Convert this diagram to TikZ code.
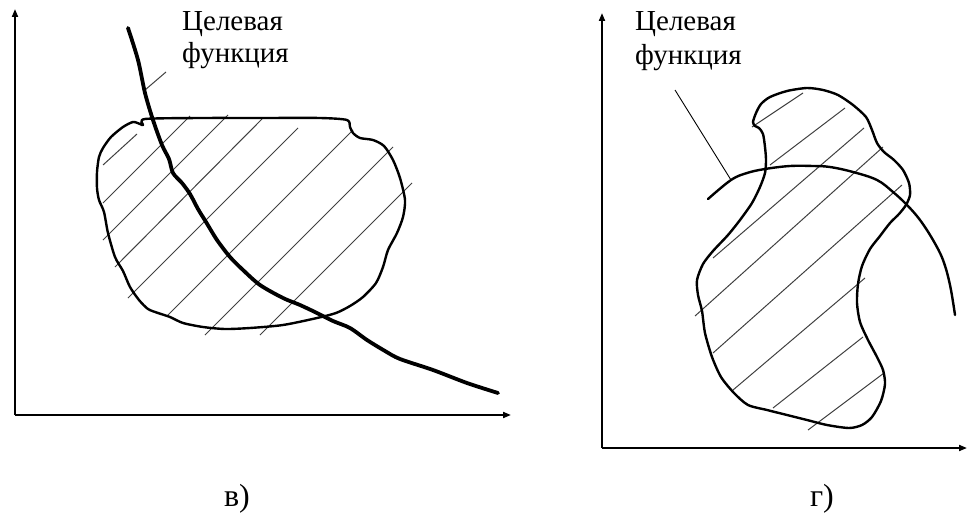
\documentclass[tikz,border=0pt]{standalone}
\usepackage{fontspec}
\setmainfont{Liberation Serif}
\usetikzlibrary{arrows.meta}
\tikzset{
  axis/.style={line width=1.8pt,-{Triangle[length=8pt,width=6pt]}},
  outline/.style={line width=2.4pt,line join=round},
  hatch/.style={line width=1pt,color=black!75},
  goal/.style={line width=3.8pt,line cap=round,line join=round},
  goalarc/.style={line width=2.4pt,line cap=round},
  leader/.style={line width=0.9pt},
  lbl/.style={inner sep=0pt,anchor=base west,font=\fontsize{29}{33}\selectfont},
  captxt/.style={inner sep=0pt,anchor=base,font=\fontsize{32}{36}\selectfont}
}
\begin{document}
\begin{tikzpicture}[x=1pt,y=-1pt]
\useasboundingbox (0,0) rectangle (968,519);
% ---------- left panel (v) ----------
\coordinate (O1) at (15,415);
\coordinate (Y1) at (15,9);
\coordinate (X1) at (511,415);
\draw[axis] (O1) -- (Y1);
\draw[axis] (O1) -- (X1);
% hatch
\draw[hatch] (145,90) -- (166,72);
\draw[hatch] (103,165) -- (137,134);
\draw[hatch] (103,203) -- (190,116);
\draw[hatch] (103,240) -- (228,115);
\draw[hatch] (115,267) -- (262,119);
\draw[hatch] (128,298) -- (298,128);
\draw[hatch] (168,315) -- (353,130);
\draw[hatch] (205,335) -- (393,147);
\draw[hatch] (260,335) -- (412,183);
% region
\draw[outline] plot[smooth cycle,tension=0.45] coordinates {
 (145,119) (200,118) (260,118) (320,118) (347,120) (350,127) (353,133) (360,138) (373,140)
 (384,146) (393,160) (400,178) (405,200) (403,217) (397,233) (388,250) (383,267)
 (376,283) (363,297) (350,306) (336,313) (317,318) (283,325) (250,328) (225,329)
 (203,327) (183,323) (170,317) (158,313) (148,309) (139,300) (130,287) (123,271)
 (115,257) (108,233) (104,212) (99,200) (97,188) (97,172) (99,157) (103,148)
 (111,137) (123,127) (133,122) (140,124) (143,125)};
% objective function
\draw[goal] plot[smooth,tension=0.5] coordinates {
 (128,28) (138,60) (145,93) (153,120) (162,145) (169,159) (173,173) (182,183)
 (190,194) (198,209) (206,222) (217,240) (230,257) (243,270) (260,285) (283,298)
 (300,305) (317,313) (333,321) (350,328) (367,340) (385,351) (400,359) (433,370)
 (467,383) (498,393)};
\node[lbl] (t1a) at (182,31) {Целевая};
\node[lbl] (t1b) at (182,63) {функция};
\node[captxt] (c1) at (237,506) {в)};
% ---------- right panel (g) ----------
\coordinate (O2) at (602,448);
\coordinate (Y2) at (602,13);
\coordinate (X2) at (967,448);
\draw[axis] (O2) -- (Y2);
\draw[axis] (O2) -- (X2);
% hatch
\draw[hatch] (752,127) -- (803,93);
\draw[hatch] (770,165) -- (845,108);
\draw[hatch] (713,258) -- (864,128);
\draw[hatch] (695,316) -- (883,147);
\draw[hatch] (713,353) -- (902,185);
\draw[hatch] (733,390) -- (865,278);
\draw[hatch] (773,408) -- (863,337);
\draw[hatch] (808,430) -- (884,373);
% region
\draw[outline] plot[smooth cycle,tension=0.45] coordinates {
 (753,122) (756,113) (761,104) (770,97) (787,91) (807,88) (823,90) (838,95)
 (853,105) (866,117) (872,130) (877,143) (884,152) (894,160) (903,170) (909,183)
 (910,195) (906,205) (899,214) (890,223) (880,236) (870,249) (862,266) (858,284)
 (857,303) (860,322) (868,340) (877,357) (883,370) (885,384) (881,401) (872,417)
 (862,425) (849,428) (827,425) (807,420) (787,415) (767,410) (748,405) (734,393)
 (721,377) (712,357) (705,333) (702,311) (698,295) (697,280) (703,264) (713,251)
 (728,235) (740,220) (752,203) (760,187) (765,173) (766,160) (765,147) (763,134)
 (759,128) (755,126)};
% objective function (arc)
\coordinate (A1) at (731,180);
\draw[goalarc] plot[smooth,tension=0.6] coordinates {
 (708,199) (731,180) (747,173) (765,169) (790,166) (813,166) (830,167) (853,172)
 (877,180) (893,192) (907,205) (920,220) (933,240) (943,260) (950,285) (955,315)};
\coordinate (L2) at (675,90);
\draw[leader] (L2) -- (A1);
\node[lbl] (t2a) at (635,31) {Целевая};
\node[lbl] (t2b) at (635,64) {функция};
\node[captxt] (c2) at (822,506) {г)};
\end{tikzpicture}
\end{document}
